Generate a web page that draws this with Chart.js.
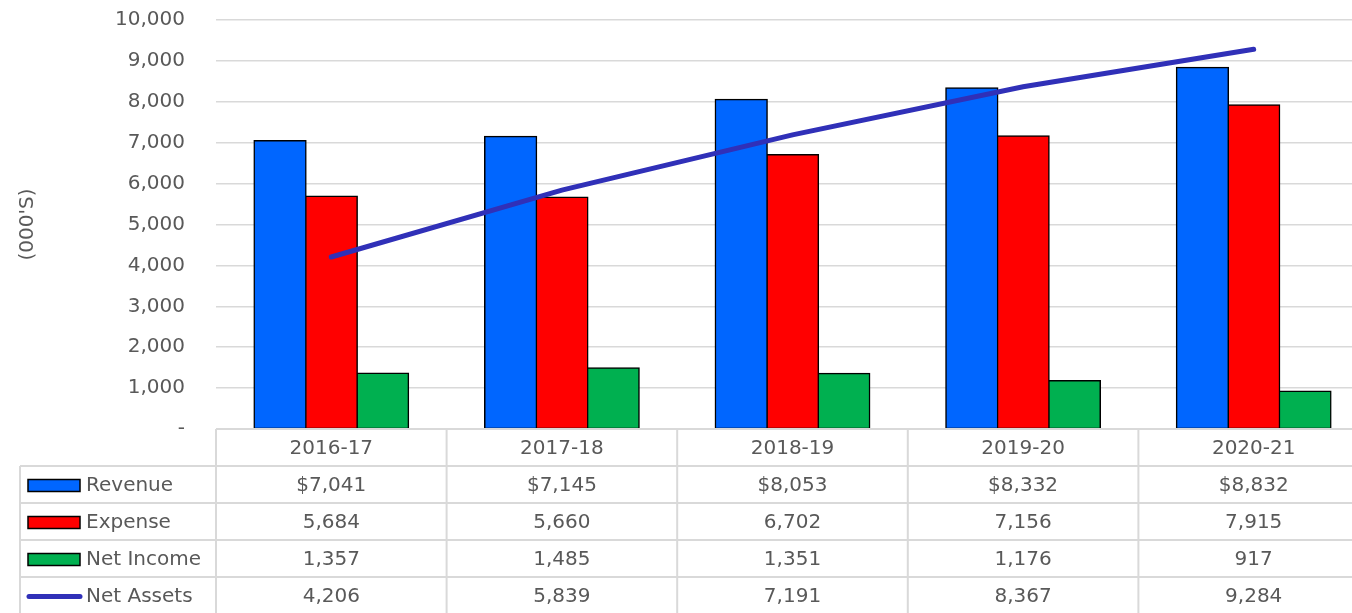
<!DOCTYPE html>
<html lang="en">
	<head>
		<meta charset="UTF-8" />
		<title>Revenue, Expense, Net Income and Net Assets</title>
		<script src="https://cdn.jsdelivr.net/npm/chart.js"></script>
		<style>
			html, body { margin: 0; padding: 0; background: #fff; overflow: hidden; }
		</style>
	</head>
	<body>
		<canvas id="chart" width="1372" height="613"></canvas>
		<script>
			const years = ["2016-17", "2017-18", "2018-19", "2019-20", "2020-21"];
			const revenue = [7041, 7145, 8053, 8332, 8832];
			const expense = [5684, 5660, 6702, 7156, 7915];
			const netIncome = [1357, 1485, 1351, 1176, 917];
			const netAssets = [4206, 5839, 7191, 8367, 9284];
			const yTicks = [0, 1000, 2000, 3000, 4000, 5000, 6000, 7000, 8000, 9000, 10000];

			const FONT = "DejaVu Sans";
			const GREY = "#595959";
			const LINE = "#D9D9D9";

			const fmt = (v) => v.toLocaleString("en-US");

			// rows of the data table under the chart
			const rows = [
				{ label: "Revenue", values: revenue, color: "#0066FF", prefix: "$", type: "bar" },
				{ label: "Expense", values: expense, color: "#FF0000", prefix: "", type: "bar" },
				{ label: "Net Income", values: netIncome, color: "#00B050", prefix: "", type: "bar" },
				{ label: "Net Assets", values: netAssets, color: "#3030B8", prefix: "", type: "line" },
			];

			const dataTable = {
				id: "dataTable",
				afterDraw(chart) {
					const ctx = chart.ctx;
					const x = chart.scales.x;
					const area = chart.chartArea;
					const colW = x.getPixelForValue(1) - x.getPixelForValue(0);
					const rowH = 37;
					const top = area.bottom;
					const tableLeft = 20;
					const right = area.left + colW * years.length;

					ctx.save();
					ctx.strokeStyle = LINE;
					ctx.lineWidth = 2;
					// horizontal lines
					ctx.beginPath();
					ctx.moveTo(area.left, top);
					ctx.lineTo(right, top);
					for (let r = 1; r <= rows.length + 1; r++) {
						ctx.moveTo(tableLeft, top + r * rowH);
						ctx.lineTo(right, top + r * rowH);
					}
					// vertical lines
					ctx.moveTo(tableLeft, top + rowH);
					ctx.lineTo(tableLeft, chart.height);
					for (let c = 0; c <= years.length; c++) {
						const cx = area.left + c * colW;
						ctx.moveTo(cx, top);
						ctx.lineTo(cx, chart.height);
					}
					ctx.stroke();

					ctx.fillStyle = GREY;
					ctx.font = "20px '" + FONT + "'";
					ctx.textBaseline = "middle";
					ctx.textAlign = "center";
					years.forEach((y, i) => {
						ctx.fillText(y, x.getPixelForValue(i), top + rowH / 2 + 1);
					});

					rows.forEach((row, r) => {
						const cy = top + (r + 1) * rowH + rowH / 2 + 1;
						// legend key
						if (row.type === "bar") {
							ctx.fillStyle = row.color;
							ctx.fillRect(28, cy - 6, 52, 12);
							ctx.strokeStyle = "#000";
							ctx.lineWidth = 1.5;
							ctx.strokeRect(28, cy - 6, 52, 12);
						} else {
							ctx.strokeStyle = row.color;
							ctx.lineWidth = 5;
							ctx.lineCap = "round";
							ctx.beginPath();
							ctx.moveTo(29, cy);
							ctx.lineTo(80, cy);
							ctx.stroke();
						}
						ctx.fillStyle = GREY;
						ctx.textAlign = "left";
						ctx.fillText(row.label, 86, cy);
						ctx.textAlign = "center";
						row.values.forEach((v, i) => {
							ctx.fillText(row.prefix + fmt(v), x.getPixelForValue(i), cy);
						});
					});
					ctx.restore();
				},
			};

			const barStyle = { borderColor: "#000", borderWidth: 1.5, borderSkipped: false, inflateAmount: 1 };

			new Chart(document.getElementById("chart"), {
				type: "bar",
				data: {
					labels: years,
					datasets: [
						{ label: "Net Assets", type: "line", data: netAssets, borderColor: "#3030B8", backgroundColor: "#3030B8", borderWidth: 5, borderCapStyle: "round", pointRadius: 0, tension: 0, order: 0 },
						{ label: "Revenue", data: revenue, backgroundColor: "#0066FF", ...barStyle, order: 1 },
						{ label: "Expense", data: expense, backgroundColor: "#FF0000", ...barStyle, order: 1 },
						{ label: "Net Income", data: netIncome, backgroundColor: "#00B050", ...barStyle, order: 1 },
					],
				},
				options: {
					responsive: false,
					animation: false,
					layout: { padding: { top: 0, right: 3, bottom: 184, left: 0 } },
					datasets: { bar: { categoryPercentage: 0.667, barPercentage: 1 } },
					plugins: { legend: { display: false }, tooltip: { enabled: false } },
					scales: {
						x: {
							display: false,
							grid: { display: false },
						},
						y: {
							min: 0,
							max: 10000,
							afterBuildTicks: (scale) => { scale.ticks = yTicks.map((v) => ({ value: v })); },
							afterFit: (scale) => {
								scale.width = 216;
								scale.paddingTop = 20;
								scale.paddingBottom = 0;
							},
							border: { display: false },
							grid: { color: LINE, lineWidth: 1.5, drawTicks: false },
							ticks: {
								padding: 31,
								color: GREY,
								font: { family: FONT, size: 20 },
								callback: (v) => (v === 0 ? "-" : fmt(v)),
							},
							title: {
								display: true,
								text: "(000'S)",
								color: GREY,
								font: { family: FONT, size: 20 },
								padding: { top: 16, bottom: 0 },
							},
						},
					},
				},
				plugins: [dataTable],
			});
		</script>
	</body>
</html>
